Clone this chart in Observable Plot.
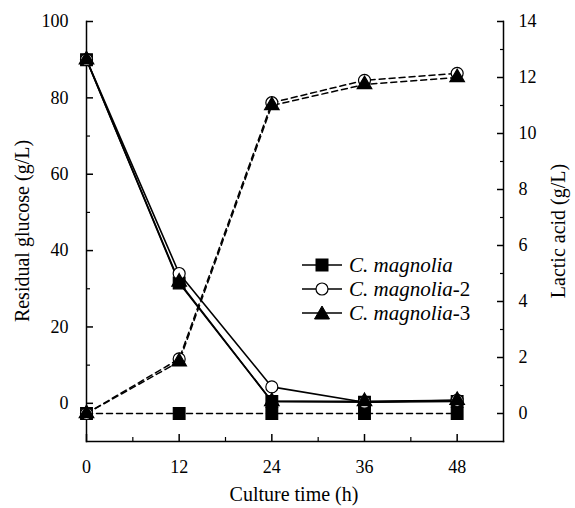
<!DOCTYPE html>
<html><head><meta charset="utf-8">
<script src="https://cdn.jsdelivr.net/npm/d3@7"></script>
<script src="https://cdn.jsdelivr.net/npm/@observablehq/plot@0.6"></script>
<style>
body{margin:0;background:#fff;}
#wrap{position:relative;width:575px;height:508px;font-family:"Liberation Serif","Times New Roman",serif;color:#000;}
#legend{position:absolute;left:302px;top:253px;font-size:21px;}
#legend .row{height:24px;display:flex;align-items:center;white-space:nowrap;}
#legend svg{margin-right:7px;}
.title{position:absolute;font-size:20px;white-space:nowrap;transform:translate(-50%,-50%);}
.title.rot{transform:translate(-50%,-50%) rotate(-90deg);}
</style></head><body><div id="wrap"></div>
<script>
// ---- data ----
const times = [0, 12, 24, 36, 48];
const strains = ["C. magnolia", "C. magnolia-2", "C. magnolia-3"];
const glucoseWT = [90, 31.5, 0.5, 0.3, 0.5];
const glucose2  = [90, 34, 4.3, 0.3, 0.8];
const glucose3  = [90, 31.8, 0.5, 0.5, 0.8];
const lacticWT  = [0, 0, 0, 0, 0];
const lactic2   = [0, 1.95, 11.1, 11.9, 12.15];
const lactic3   = [0, 1.85, 11.0, 11.75, 12.0];
const xTicks = [0, 12, 24, 36, 48];
const xMinor = [6, 18, 30, 42];
const glucoseTicks = [0, 20, 40, 60, 80, 100];
const glucoseMinor = [10, 30, 50, 70, 90];
const lacticTicks = [0, 2, 4, 6, 8, 10, 12, 14];
const lacticMinor = [1, 3, 5, 7, 9, 11, 13];
const xDomain = [0, 54];
const glucoseDomain = [-10, 100];
const lacticDomain = [-1, 14];
const titles = {x: "Culture time (h)", yLeft: "Residual glucose (g/L)", yRight: "Lactic acid (g/L)"};

// map lactic acid values onto the glucose (left) scale
const toG = L => glucoseDomain[0] + (L - lacticDomain[0]) * (glucoseDomain[1] - glucoseDomain[0]) / (lacticDomain[1] - lacticDomain[0]);

const glucoseSeries = [glucoseWT, glucose2, glucose3];
const lacticSeries = [lacticWT, lactic2, lactic3];
const rows = [];
strains.forEach((s, i) => times.forEach((t, j) => rows.push({
  strain: s, time: t, glucose: glucoseSeries[i][j], lactic: lacticSeries[i][j], lacticG: toG(lacticSeries[i][j])
})));

const font = "Liberation Serif, Times New Roman, serif";
const byStrain = s => rows.filter(d => d.strain === s);
const sym = {"C. magnolia": ["square", "black", 6.6], "C. magnolia-2": ["circle", "white", 6.0], "C. magnolia-3": ["triangle", "black", 5.4]};
const dotMarks = [];
for (const s of strains) {
  const [symbol, fill, r] = sym[s];
  dotMarks.push(Plot.dot(byStrain(s), {x: "time", y: "lacticG", symbol: () => symbol, fill, stroke: "black", strokeWidth: 1.2, r}));
  dotMarks.push(Plot.dot(byStrain(s), {x: "time", y: "glucose", symbol: () => symbol, fill, stroke: "black", strokeWidth: 1.2, r}));
}

const chart = Plot.plot({
  width: 575, height: 508,
  marginLeft: 86, marginRight: 72, marginTop: 21, marginBottom: 67,
  style: {fontFamily: font, fontSize: "18px", color: "black", background: "white"},
  x: {domain: xDomain},
  y: {domain: glucoseDomain},
  symbol: {domain: ["square", "circle", "triangle"], range: ["square", "circle", "triangle"]},
  marks: [
    Plot.frame({anchor: "left", strokeWidth: 1.5}),
    Plot.frame({anchor: "right", strokeWidth: 1.5}),
    Plot.frame({anchor: "bottom", strokeWidth: 1.5}),
    Plot.axisX({ticks: xTicks, tickSize: -7, tickPadding: 26, tickFormat: d => String(d), label: null, strokeWidth: 1.5}),
    Plot.axisX({ticks: xMinor, tickSize: -4, tickFormat: () => "", label: null, strokeWidth: 1.2}),
    Plot.axisY({anchor: "left", ticks: glucoseTicks, tickSize: -7, tickPadding: 25, tickFormat: d => String(d), label: null, strokeWidth: 1.5}),
    Plot.axisY({anchor: "left", ticks: glucoseMinor, tickSize: -4, tickFormat: () => "", label: null, strokeWidth: 1.2}),
    Plot.axisY({anchor: "right", ticks: lacticTicks.map(toG), tickSize: -7, tickPadding: 22,
      tickFormat: (g, i) => String(lacticTicks[i]), label: null, strokeWidth: 1.5}),
    Plot.axisY({anchor: "right", ticks: lacticMinor.map(toG), tickSize: -4, tickFormat: () => "", label: null, strokeWidth: 1.2}),
    Plot.line(rows, {x: "time", y: "lacticG", z: "strain", stroke: "black", strokeWidth: 1.5, strokeDasharray: "6,4"}),
    Plot.line(rows, {x: "time", y: "glucose", z: "strain", stroke: "black", strokeWidth: 1.6}),
    ...dotMarks
  ]
});
const wrap = document.getElementById("wrap");
wrap.appendChild(chart);

// axis titles
function addTitle(text, cx, cy, rot) {
  const d = document.createElement("div");
  d.className = "title" + (rot ? " rot" : "");
  d.textContent = text;
  d.style.left = cx + "px";
  d.style.top = cy + "px";
  wrap.appendChild(d);
}
addTitle(titles.yLeft, 22, 231, true);
addTitle(titles.yRight, 558, 231, true);
addTitle(titles.x, 294, 494, false);

// legend
const legend = document.createElement("div");
legend.id = "legend";
const shapes = {
  "C. magnolia": '<rect x="14" y="5" width="12" height="12" fill="black" stroke="black"/>',
  "C. magnolia-2": '<circle cx="20" cy="11" r="6" fill="white" stroke="black" stroke-width="1.2"/>',
  "C. magnolia-3": '<path d="M20,4 L27.5,17 L12.5,17 Z" fill="black" stroke="black"/>'
};
for (const s of strains) {
  const row = document.createElement("div");
  row.className = "row";
  const m = s.match(/^(C\. magnolia)(.*)$/);
  row.innerHTML = `<svg width="40" height="22"><line x1="0" x2="40" y1="11" y2="11" stroke="black" stroke-width="1.5"/>${shapes[s]}</svg><span><i>${m[1]}</i>${m[2]}</span>`;
  legend.appendChild(row);
}
wrap.appendChild(legend);
</script>
</body></html>
